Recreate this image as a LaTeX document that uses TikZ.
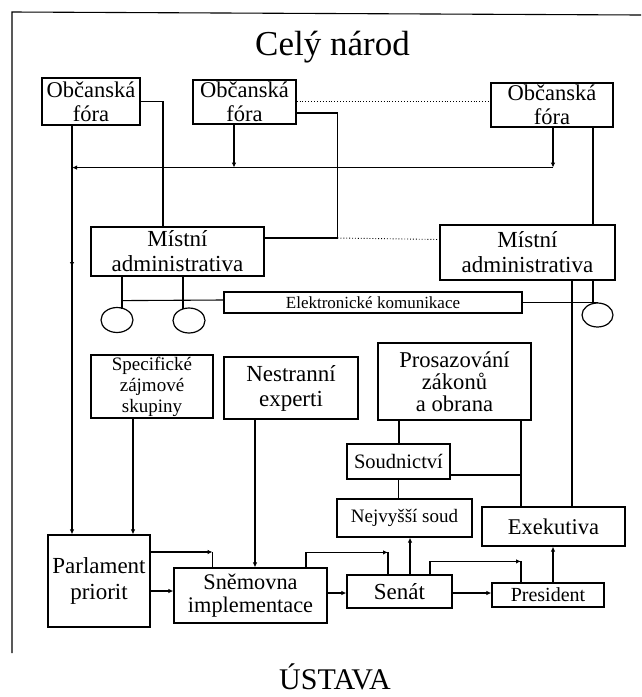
\documentclass[tikz,border=0pt]{standalone}
\usepackage{fontspec}
\setmainfont{Liberation Serif}
\usetikzlibrary{calc,arrows.meta,shapes.geometric,decorations.markings}
\begin{document}
\begin{tikzpicture}[x=1pt,y=-1pt,
  box/.style={draw, line width=1.2pt, inner sep=0pt, align=center},
  ln/.style={line width=1.1pt},
  arr/.style={ln, -{Latex[length=5pt,width=4.5pt]}},
  dots/.style={line width=0.9pt, dotted},
  ell/.style={draw, ellipse, line width=1.2pt, inner sep=0pt},
  midarr/.style={postaction={decorate}, decoration={markings, mark=at position #1 with {\arrow{Latex[length=5pt,width=4.5pt]}}}}]
\fill[white] (0,0) rectangle (641,697);
\useasboundingbox (0,0) rectangle (641,697);
% frame
\draw[line width=1.1pt] (12,653) -- (12,12) -- (641,15);
% titles
\node[anchor=base, inner sep=0pt, font=\fontsize{35}{40}\selectfont] (title) at (332.5,55) {Celý národ};
\node[anchor=base, inner sep=0pt, font=\fontsize{30}{34}\selectfont] (ustava) at (335,689) {ÚSTAVA};
% boxes
\node[box, minimum width=98pt, minimum height=47pt, font=\fontsize{22.5}{24}\selectfont] (of1) at (91,101.5) {Občanská\\fóra};
\node[box, minimum width=103pt, minimum height=44pt, font=\fontsize{22.5}{24}\selectfont] (of2) at (244.5,102) {Občanská\\fóra};
\node[box, minimum width=122pt, minimum height=44pt, font=\fontsize{22.5}{24}\selectfont] (of3) at (552,105) {Občanská\\fóra};
\node[box, minimum width=173pt, minimum height=49pt, font=\fontsize{23}{25}\selectfont] (ma1) at (177.5,251.5) {Místní\\administrativa};
\node[box, minimum width=175pt, minimum height=55pt, font=\fontsize{23}{25}\selectfont] (ma2) at (527.5,252.5) {Místní\\administrativa};
\node[box, minimum width=298pt, minimum height=21pt, font=\fontsize{17}{19}\selectfont] (ek) at (373,302.5) {Elektronické komunikace};
\node[ell, minimum width=32pt, minimum height=25pt] (e1) at (117,320) {};
\node[ell, minimum width=32pt, minimum height=25pt] (e2) at (189,320.5) {};
\node[ell, minimum width=31pt, minimum height=24pt] (e3) at (597.5,315) {};
\node[box, minimum width=122pt, minimum height=63pt, font=\fontsize{19}{21}\selectfont] (spec) at (152,386.5) {Specifické\\zájmové\\skupiny};
\node[box, minimum width=134pt, minimum height=62pt, font=\fontsize{23}{25}\selectfont] (nest) at (291,388) {Nestranní\\experti};
\node[box, minimum width=153pt, minimum height=77pt, font=\fontsize{22.6}{22}\selectfont] (pros) at (454.5,381.5) {Prosazování\\zákonů\\a obrana};
\node[box, minimum width=103pt, minimum height=35pt, font=\fontsize{20.5}{22}\selectfont] (soud) at (398.5,461.5) {Soudnictví};
\node[box, minimum width=135pt, minimum height=38pt, font=\fontsize{19}{21}\selectfont] (nejv) at (404.5,518) {Nejvyšší soud};
\node[box, minimum width=143pt, minimum height=39pt, font=\fontsize{22.5}{24}\selectfont] (exek) at (553.5,526.5) {Exekutiva};
\node[box, minimum width=102pt, minimum height=92pt, font=\fontsize{23}{26}\selectfont] (parl) at (99,581) {Parlament\\priorit};
\node[box, minimum width=153pt, minimum height=55pt, font=\fontsize{22.3}{23}\selectfont] (snem) at (250.5,595.5) {Sněmovna\\implementace};
\node[box, minimum width=105pt, minimum height=33pt, font=\fontsize{23}{25}\selectfont] (senat) at (399.5,591.5) {Senát};
\node[box, minimum width=112pt, minimum height=24pt, font=\fontsize{20}{22}\selectfont] (pres) at (548,595) {President};
% helper coordinates
\coordinate (v1) at ($(of1.south)+(-19,0)$);
\coordinate (hr) at ($(of3.south)+(1,40)$);
\coordinate (c1) at ($(parl.east)+(62,-29)$);
\coordinate (c2) at ($(senat.north)+(-11.5,-22)$);
\coordinate (c3) at ($(pres.north)+(-27,-21)$);
\coordinate (pr) at ($(pros.south)+(66.5,0)$);
\coordinate (a1) at ($(of2.south)+(-10.5,0)$);
\coordinate (a2) at ($(of3.south)+(41,0)$);
\coordinate (a3) at ($(ma2.south)+(65.5,0)$);
\coordinate (a4) at ($(ma2.south)+(44.5,0)$);
\coordinate (a5) at ($(pros.south)+(-55.5,0)$);
\coordinate (a6) at ($(soud.east)+(0,13.5)$);
\coordinate (a7) at ($(spec.south)+(-19,0)$);
\coordinate (a8) at ($(nest.south)+(-36,0)$);
\coordinate (a9) at ($(parl.east)+(0,10)$);
\coordinate (a10) at ($(snem.east)+(0,-2.5)$);
\coordinate (a11) at ($(senat.east)+(0,1.5)$);
\coordinate (a12) at ($(senat.north)+(10.5,0)$);
\coordinate (a13) at ($(pres.north)+(5,0)$);
\coordinate (a14) at ($(of2.east)+(0,-1)$);
% top connectors
\draw[ln] (of1.east) -| ($(ma1.north)+(-14.5,0)$);
\draw[ln] ($(of2.east)+(0,11)$) -- ++(41,0) |- ($(ma1.east)+(0,-13.5)$);
\draw[dots] (a14) -- (a14 -| of3.west);
\draw[dots] ($(ma1.east)+(73,-13.5)$) -- ($(ma2.west)+(0,-13)$);
\draw[arr, midarr=0.346] (v1) -- (v1 |- parl.north);
\draw[arr] ($(of3.south)+(1,0)$) -- (hr);
\draw[arr] (hr) -- (hr -| v1);
\draw[arr] (a1) -- (a1 |- hr);
\draw[ln] (a2) -- (a2 |- ma2.north);
% local administration
\draw[ln] ($(ma1.south)+(-55.5,0)$) -- ($(ma1.south)+(-55.5,32)$);
\draw[ln] ($(ma1.south)+(5.5,0)$) -- ($(ma1.south)+(5.5,32)$);
\draw[ln] ($(ma1.south)+(-55.5,24)$) -- ($(ek.west)+(0,-2.5)$);
\draw[ln] (ek.east) -- (ek.east -| e3.north);
\draw[ln] (a3) -- (a3 |- e3.north);
\draw[ln] (a4) -- (a4 |- exek.north);
% justice / executive
\draw[ln] (a5) -- (a5 |- soud.north);
\draw[ln] (pr) -- (pr |- exek.north);
\draw[ln] (a6) -- (a6 -| pr);
\draw[ln] (soud.south) -- (soud.south |- nejv.north);
% bottom
\draw[arr] (a7) -- (a7 |- parl.north);
\draw[arr] (a8) -- (a8 |- snem.north);
\draw[arr] ($(parl.east)+(0,-29)$) -- (c1);
\draw[ln] (c1) -- (c1 |- snem.north);
\draw[arr] (a9) -- (a9 -| snem.west);
\draw[arr] ($(snem.north)+(55.5,0)$) |- (c2);
\draw[ln] (c2) -- (c2 |- senat.north);
\draw[arr] (a10) -- (a10 -| senat.west);
\draw[arr] ($(senat.north)+(30.5,0)$) |- (c3);
\draw[ln] (c3) -- (c3 |- pres.north);
\draw[arr] (a11) -- (a11 -| pres.west);
\draw[arr] (a12) -- (a12 |- nejv.south);
\draw[arr] (a13) -- (a13 |- exek.south);
\end{tikzpicture}
\end{document}
